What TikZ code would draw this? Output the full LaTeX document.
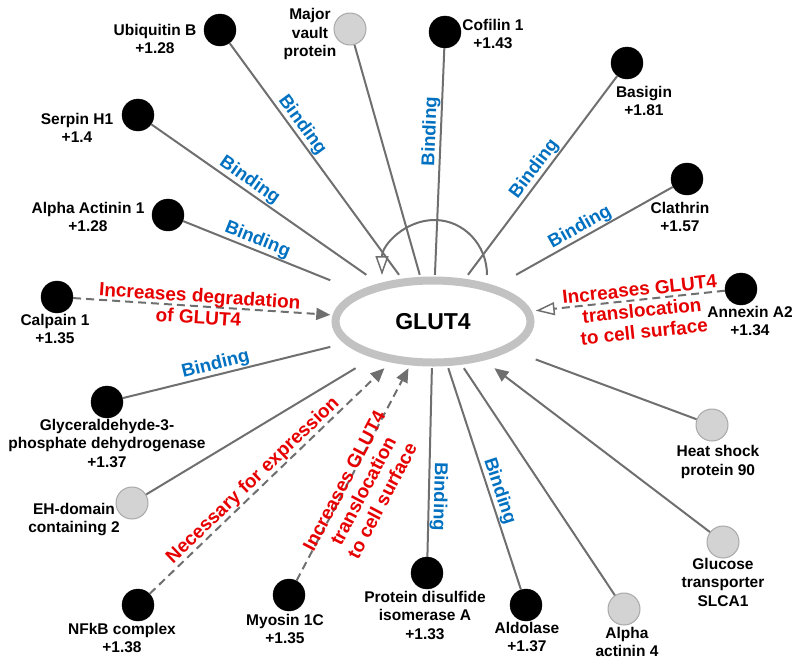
\documentclass[tikz,border=0pt]{standalone}
\usepackage{fontspec}
\setmainfont{Liberation Sans}
\usetikzlibrary{arrows.meta}

\definecolor{linkgrey}{HTML}{6F6F6F}
\definecolor{ringgrey}{HTML}{C2C2C2}
\definecolor{nodegrey}{HTML}{D3D3D3}
\definecolor{rimgrey}{HTML}{A8A8A8}
\definecolor{bindblue}{HTML}{0070C0}
\definecolor{notered}{HTML}{E60000}

\tikzset{
        protein/.style={circle, minimum size=32pt, inner sep=0pt, fill=black, draw=black},
        nodata/.style={protein, fill=nodegrey, draw=rimgrey, line width=1pt},
        plabel/.style={align=center, inner sep=0pt, font=\bfseries\fontsize{15.5}{18.5}\selectfont},
        link/.style={draw=linkgrey, line width=2pt},
        effect/.style={link, dash pattern=on 8pt off 5pt},
        acts/.style={-{Triangle[length=14pt,width=12pt]}},
        openacts/.style={-{Triangle[open,length=19pt,width=13pt,line width=1.5pt]}},
        bind/.style={sloped, above, inner sep=0.5pt, text=bindblue, font=\bfseries\fontsize{18.5}{22}\selectfont},
        note/.style={sloped, align=center, inner sep=0pt, text=notered, font=\bfseries\fontsize{19}{21.5}\selectfont},
}

\begin{document}
\begin{tikzpicture}[x=1pt,y=-1pt]
        \useasboundingbox (0,0) rectangle (800,665);
        % hub
        \node[minimum width=205pt, minimum height=93pt, inner sep=0pt, font=\bfseries\fontsize{23}{26}\selectfont] (glut) at (433,321.5) {GLUT4};
        \draw[ringgrey, line width=8pt] (glut.center) ellipse [x radius=97.5, y radius=41];

        % measured proteins (black) and the others (grey)
        \foreach \nm/\x/\y in {ubq/220/30, serpin/138/115, cof/445/32, bsg/627/63, clth/687/179, actn1/168/215, capn/57/297, anxa/741/289, gapdh/107/402, nfkb/138/605, myo/289/595, pdi/427/573, aldo/526/605}{
        \node[protein] (\nm) at (\x,\y) {};
        }
        \foreach \nm/\x/\y in {mvp/350/29, ehd/132/503, actn4/624/609, slca/723/542, hsp/712/425}{
        \node[nodata] (\nm) at (\x,\y) {};
        }

        \node[plabel] (ubqname) at (155,39) {Ubiquitin B\\+1.28};
        \node[plabel] (mvpname) at (310,34) {Major\\vault\\protein};
        \node[plabel] (serpinname) at (77,128) {Serpin H1\\+1.4};
        \node[plabel] (cofname) at (493,34) {Cofilin 1\\+1.43};
        \node[plabel] (bsgname) at (644,101) {Basigin\\+1.81};
        \node[plabel] (clthname) at (680,217) {Clathrin\\+1.57};
        \node[plabel] (actn1name) at (88,217) {Alpha Actinin 1\\+1.28};
        \node[plabel] (capnname) at (55,329) {Calpain 1\\+1.35};
        \node[plabel] (anxaname) at (750,321) {Annexin A2\\+1.34};
        \node[plabel] (gapdhname) at (107,443) {Glyceraldehyde-3-\\phosphate dehydrogenase\\+1.37};
        \node[plabel] (ehdname) at (74,519.5) {EH-domain\\containing 2};
        \node[plabel] (hspname) at (718,462) {Heat shock\\protein 90};
        \node[plabel] (slcaname) at (723,582) {Glucose\\transporter\\SLCA1};
        \node[plabel] (nfkbname) at (122,638) {NFkB complex\\+1.38};
        \node[plabel] (myoname) at (285,629) {Myosin 1C\\+1.35};
        \node[plabel] (pdiname) at (425,615) {Protein disulfide\\isomerase A\\+1.33};
        \node[plabel] (aldoname) at (527,637) {Aldolase\\+1.37};
        \node[plabel] (actn4name) at (627,642) {Alpha\\actinin 4};

        % binding
        \foreach \nm/\p in {ubq/0.38, serpin/0.43, actn1/0.48, cof/0.37, bsg/0.5, clth/0.56, gapdh/0.46}{
        \draw[link] (\nm) -- (glut) node[bind, pos=\p] {Binding};
        }
        \draw[link] (glut) -- (pdi) node[bind, allow upside down, pos=0.68] {Binding};
        \draw[link] (glut) -- (aldo) node[bind, pos=0.57] {Binding};
        \foreach \nm in {mvp, ehd, actn4, hsp}{
        \draw[link] (\nm) -- (glut);
        }
        \draw[link, acts] (slca) -- (glut);

        % effects
        \draw[effect, acts] (capn) -- (glut) node[note, pos=0.49] {Increases degradation\\of GLUT4};
        \draw[effect, openacts] (anxa) -- (glut) node[note, pos=0.445, yshift=-11pt] {Increases GLUT4\\translocation\\to cell surface};
        \draw[effect, acts] (nfkb) -- (glut) node[note, above, pos=0.47] {Necessary for expression};
        \draw[effect, acts] (myo) -- (glut) node[note, pos=0.46, yshift=-17pt] {Increases GLUT4\\translocation\\to cell surface};

        % GLUT4 with itself
        \coordinate (loopR) at (487,275);
        \draw[link, openacts] (loopR) arc [start angle=0, end angle=-180, x radius=52.5, y radius=55];
\end{tikzpicture}
\end{document}
